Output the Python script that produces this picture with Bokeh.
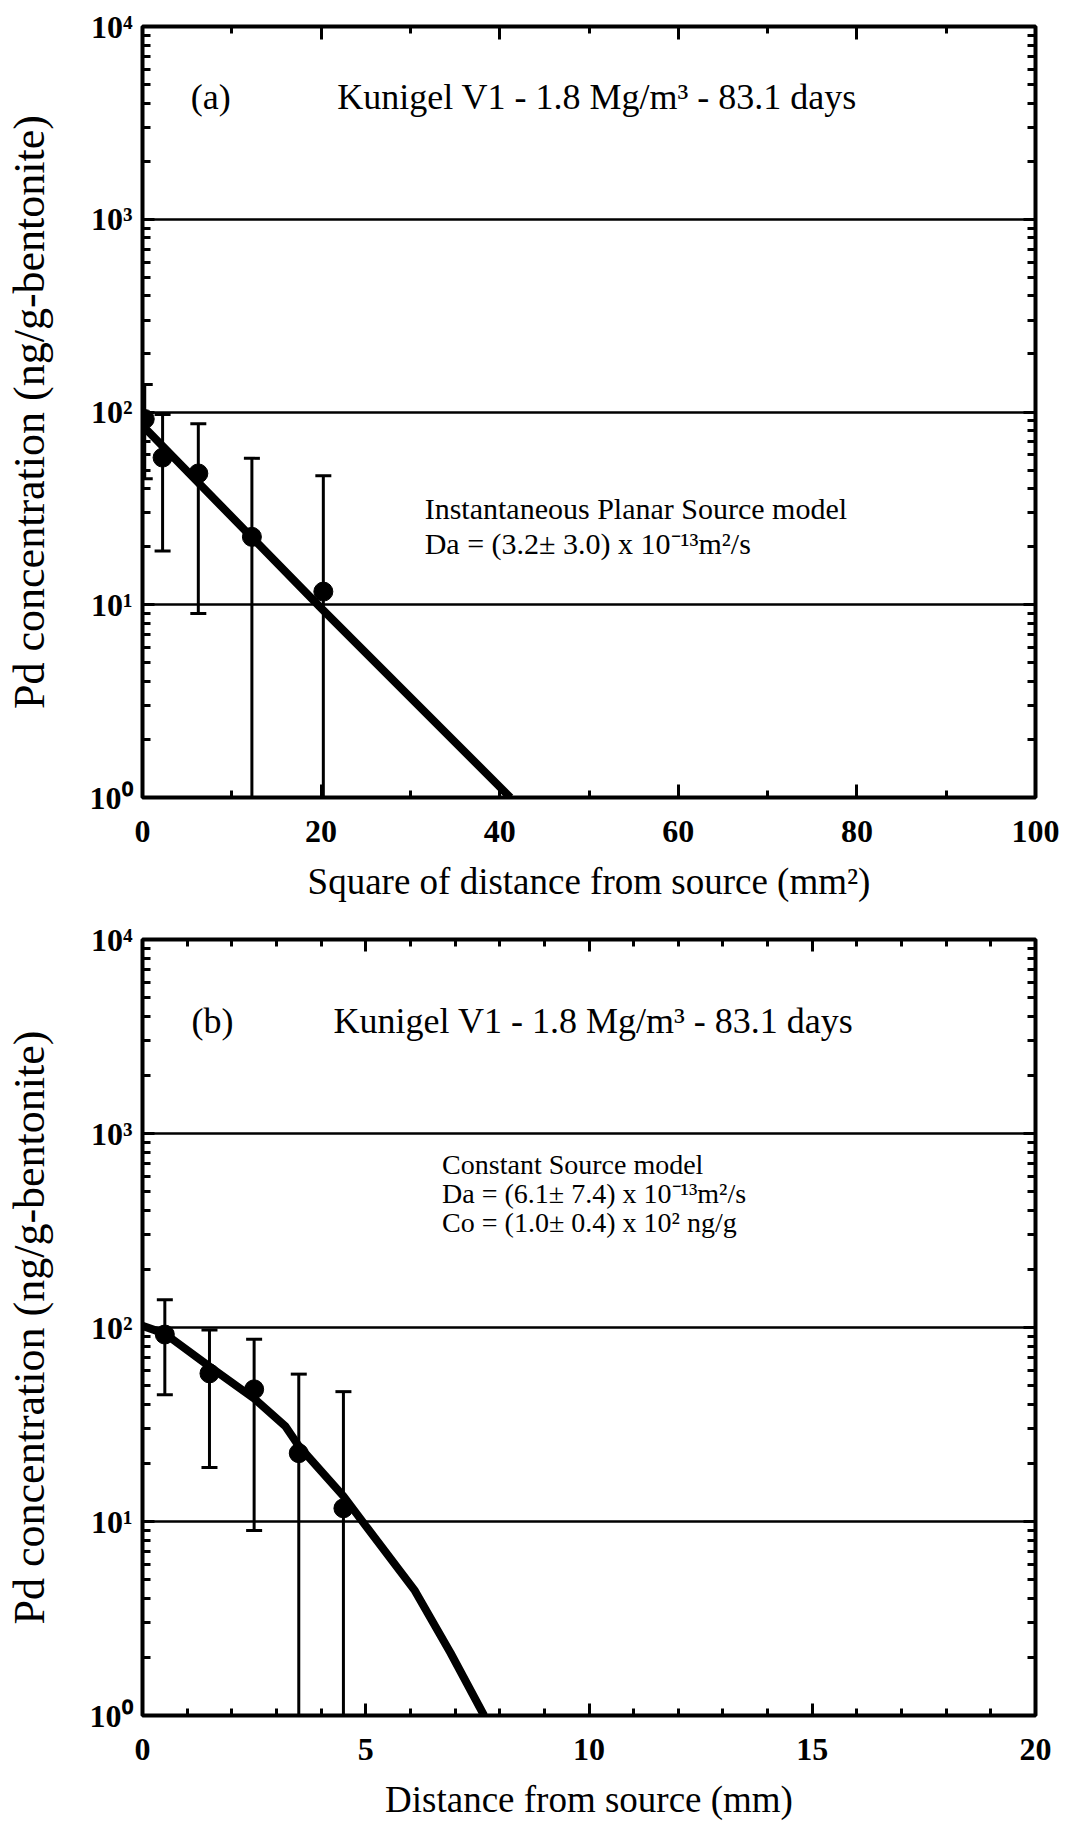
import numpy as np
from bokeh.plotting import figure
from bokeh.models import Range1d, FixedTicker, LogAxis, LinearAxis, Label
from bokeh.layouts import column
from bokeh.embed import file_html
from bokeh.resources import INLINE

# ---------------- data ----------------
distance_mm = [0.5, 1.5, 2.5, 3.5, 4.5]
distance_sq = [0.25, 2.25, 6.25, 12.25, 20.25]
conc = [92, 58, 48, 22.5, 11.7]
conc_err = [47, 39, 39, 35, 35]

# Instantaneous planar source model (vs square of distance)
ips_x = [0, 20, 41.2]
ips_y = [85, 9.6, 1.0]

# Constant source model (vs distance)
cs_x = [0, 0.5, 1.5, 2.5, 3.2, 3.5, 4.5, 5.0, 6.1, 6.9, 7.65]
cs_y = [102, 93, 63, 43, 31, 24.5, 13.5, 9.5, 4.4, 2.1, 1.0]

y_ticks = [1, 10, 100, 1000, 10000]
y_tick_labels = ["10⁰", "10¹", "10²", "10³", "10⁴"]
y_grid = [10, 100, 1000]
xa_ticks = [0, 20, 40, 60, 80, 100]
xa_minor = [10, 30, 50, 70, 90]
xb_ticks = [0, 5, 10, 15, 20]
xb_minor = [1, 2, 3, 4, 6, 7, 8, 9, 11, 12, 13, 14, 16, 17, 18, 19]

FONT = "Liberation Serif"
y_minor = [m * 10 ** d for d in range(4) for m in range(2, 10)]


def style_axis(ax, major_len, minor_len, label_size="37px"):
    ax.axis_line_color = None
    ax.major_tick_in = major_len
    ax.major_tick_out = 0
    ax.minor_tick_in = minor_len
    ax.minor_tick_out = 0
    ax.major_tick_line_width = 3
    ax.minor_tick_line_width = 3
    ax.major_tick_line_color = "black"
    ax.minor_tick_line_color = "black"
    ax.major_label_text_font = FONT
    ax.major_label_text_font_style = "bold"
    ax.major_label_text_font_size = "32px"
    ax.major_label_text_color = "black"
    ax.axis_label_text_font = FONT
    ax.axis_label_text_font_style = "normal"
    ax.axis_label_text_font_size = label_size
    ax.axis_label_text_color = "black"


def make_panel(xmax, xticks, xminor, xlabel, top_border, height, major_x_len,
               tick_standoff, label_standoff):
    p = figure(width=1068, height=height, x_range=Range1d(0, xmax),
               y_range=Range1d(1, 10000), y_axis_type="log",
               output_backend="svg", toolbar_location=None,
               min_border_left=142, min_border_right=33,
               min_border_top=top_border, min_border_bottom=108)
    p.outline_line_color = "black"
    p.outline_line_width = 4
    p.background_fill_color = "white"
    p.border_fill_color = "white"
    p.xgrid.visible = False
    p.ygrid.ticker = FixedTicker(ticks=y_grid)
    p.ygrid.grid_line_color = "black"
    p.ygrid.grid_line_width = 2.5

    xt = FixedTicker(ticks=xticks, minor_ticks=xminor)
    yt = FixedTicker(ticks=y_ticks, minor_ticks=y_minor)

    xax = p.xaxis[0]
    xax.ticker = xt
    xax.axis_label = xlabel
    style_axis(xax, major_x_len, 7, "37px")
    xax.major_label_standoff = tick_standoff
    xax.axis_label_standoff = label_standoff

    yax = p.yaxis[0]
    yax.ticker = yt
    yax.axis_label = "Pd concentration (ng/g-bentonite)"
    yax.major_label_overrides = dict(zip(y_ticks, y_tick_labels))
    style_axis(yax, 12, 8, "44px")
    yax.major_label_standoff = 10
    yax.axis_label_standoff = 33

    top = LinearAxis(ticker=xt, major_label_overrides={t: "" for t in xticks})
    style_axis(top, major_x_len, 7)
    p.add_layout(top, "above")
    right = LogAxis(ticker=yt, major_label_overrides={t: "" for t in y_ticks})
    style_axis(right, 12, 8)
    p.add_layout(right, "right")
    return p


def txt(size):
    return dict(text_font=FONT, text_font_size=size, text_color="black", text_baseline="middle")


lower = np.maximum(np.array(conc) - np.array(conc_err), 1e-3)
upper = np.array(conc) + np.array(conc_err)

# ---------------- panel (a) ----------------
pa = make_panel(100, xa_ticks, xa_minor, "Square of distance from source (mm²)", 26, 905, 13, 23, 16)
pa.segment(x0=distance_sq, y0=lower, x1=distance_sq, y1=upper, line_width=3, line_color="black")
pa.scatter(x=distance_sq, y=upper, marker="dash", size=16, line_width=3, line_color="black")
pa.scatter(x=distance_sq, y=lower, marker="dash", size=16, line_width=3, line_color="black")
pa.line(x=ips_x, y=ips_y, line_width=8, line_color="black")
pa.scatter(x=distance_sq, y=conc, size=19, fill_color="black", line_color="black")

pa.add_layout(Label(x=5.4, y=4330, text="(a)", **txt("36px")))
pa.add_layout(Label(x=21.8, y=4330, text="Kunigel V1 - 1.8 Mg/m³ - 83.1 days", **txt("36px")))
pa.add_layout(Label(x=31.6, y=31.6, text="Instantaneous Planar Source model", **txt("30px")))
pa.add_layout(Label(x=31.6, y=20.8, text="Da = (3.2± 3.0) x 10⁻¹³m²/s", **txt("30px")))

# ---------------- panel (b) ----------------
pb = make_panel(20, xb_ticks, xb_minor, "Distance from source (mm)", 34, 918, 12, 23, 16)
pb.segment(x0=distance_mm, y0=lower, x1=distance_mm, y1=upper, line_width=3, line_color="black")
pb.scatter(x=distance_mm, y=upper, marker="dash", size=16, line_width=3, line_color="black")
pb.scatter(x=distance_mm, y=lower, marker="dash", size=16, line_width=3, line_color="black")
pb.line(x=cs_x, y=cs_y, line_width=8, line_color="black")
pb.scatter(x=distance_mm, y=conc, size=19, fill_color="black", line_color="black")

pb.add_layout(Label(x=1.1, y=3822, text="(b)", **txt("36px")))
pb.add_layout(Label(x=4.28, y=3822, text="Kunigel V1 - 1.8 Mg/m³ - 83.1 days", **txt("36px")))
pb.add_layout(Label(x=6.71, y=692, text="Constant Source model", **txt("28px")))
pb.add_layout(Label(x=6.71, y=491, text="Da = (6.1± 7.4) x 10⁻¹³m²/s", **txt("28px")))
pb.add_layout(Label(x=6.71, y=348, text="Co = (1.0± 0.4) x 10² ng/g", **txt("28px")))

layout = column(pa, pb, spacing=0)
open("out.html", "w").write(file_html(layout, INLINE))
